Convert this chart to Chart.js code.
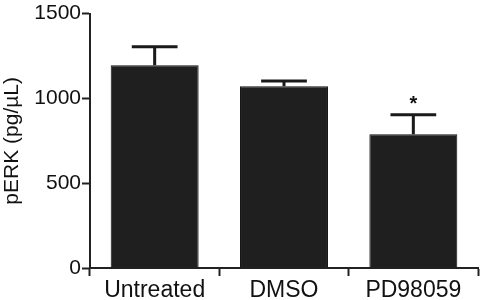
<!DOCTYPE html>
<html><head><meta charset="utf-8">
<script src="https://cdn.jsdelivr.net/npm/chart.js@4"></script>
<style>html,body{margin:0;padding:0;background:#fff}#wrap{width:482px;height:300px}</style>
</head><body><div id="wrap"><canvas id="c" width="482" height="300"></canvas></div>
<script>
const categories = ["Untreated", "DMSO", "PD98059"];
const means = [1195, 1072, 788];
const errors = [110, 30, 115];
const marks = ["", "", "*"];
const yTicks = [0, 500, 1000, 1500];
const yTitle = "pERK (pg/\u00B5L)";

const FONT = "'Liberation Sans', Arial, Helvetica, sans-serif";

const errorBars = {
  id: 'errorBars',
  afterDatasetsDraw(chart) {
    const ctx = chart.ctx;
    const meta = chart.getDatasetMeta(0);
    const y = chart.scales.y;
    ctx.save();
    ctx.strokeStyle = '#1a1a1a';
    ctx.lineWidth = 3;
    meta.data.forEach((bar, i) => {
      const x = bar.x;
      const top = y.getPixelForValue(means[i] + errors[i]);
      const base = y.getPixelForValue(means[i]);
      const half = bar.width * 0.26;
      ctx.beginPath();
      ctx.moveTo(x, base);
      ctx.lineTo(x, top);
      ctx.moveTo(x - half, top);
      ctx.lineTo(x + half, top);
      ctx.stroke();
      if (marks[i]) {
        ctx.fillStyle = '#111';
        ctx.font = "bold 20px " + FONT;
        ctx.textAlign = 'center';
        ctx.textBaseline = 'alphabetic';
        ctx.fillText(marks[i], x, top - 5);
      }
    });
    ctx.restore();
  }
};

new Chart(document.getElementById('c'), {
  type: 'bar',
  data: {
    labels: categories,
    datasets: [{
      data: means,
      backgroundColor: '#1f1f1f',
      borderColor: '#111',
      borderWidth: 1,
      categoryPercentage: 1,
      barPercentage: 0.68
    }]
  },
  options: {
    responsive: false,
    animation: false,
    devicePixelRatio: 1,
    layout: { padding: { top: 10, right: 4, left: 0, bottom: 0 } },
    plugins: { legend: { display: false }, tooltip: { enabled: false } },
    scales: {
      x: {
        grid: { drawOnChartArea: false, drawTicks: true, tickLength: 8, tickWidth: 2, tickColor: '#222', offset: true },
        border: { display: true, width: 2, color: '#222' },
        ticks: { color: '#111', font: { family: FONT, size: 23 }, padding: 1 },
        afterFit(s) { s.height = 32; }
      },
      y: {
        min: 0, max: 1500,
        afterBuildTicks(s) { s.ticks = yTicks.map(v => ({ value: v })); },
        grid: { drawOnChartArea: false, drawTicks: true, tickLength: 8, tickWidth: 2, tickColor: '#222' },
        border: { display: true, width: 2, color: '#222' },
        ticks: { color: '#111', font: { family: FONT, size: 21 }, padding: 1, callback: v => String(v) },
        title: { display: true, text: yTitle, color: '#111', font: { family: FONT, size: 21 }, padding: { top: 0, bottom: 0 } },
        afterFit(s) { s.width = 90; }
      }
    }
  },
  plugins: [errorBars]
});
</script>
</body></html>
